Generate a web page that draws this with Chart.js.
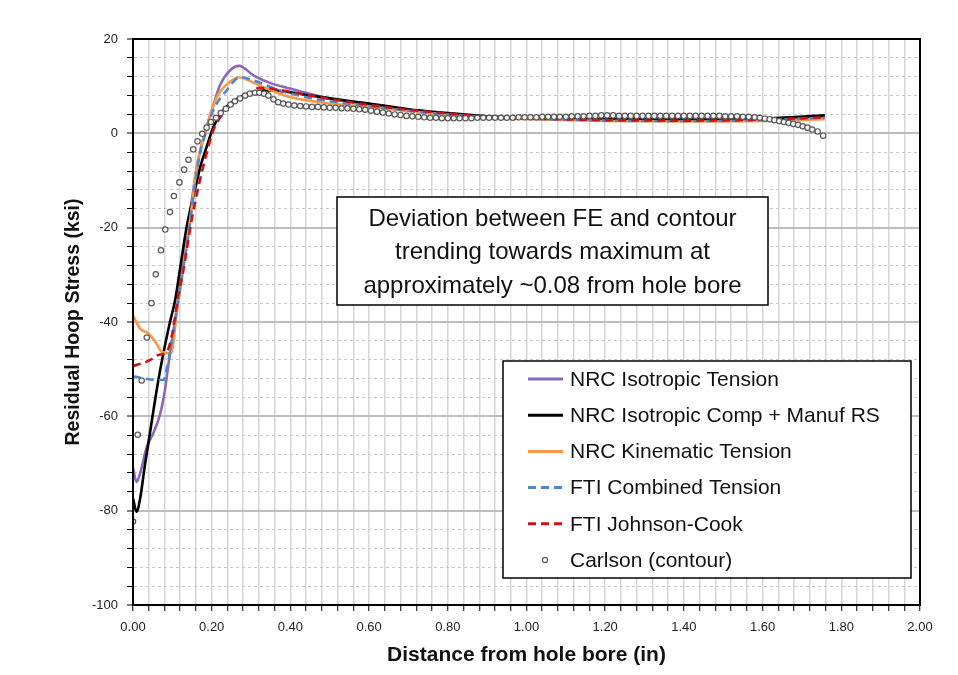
<!DOCTYPE html>
<html>
<head>
<meta charset="utf-8">
<title>Residual Hoop Stress</title>
<script src="https://cdn.jsdelivr.net/npm/chart.js@4.4.1/dist/chart.umd.min.js"></script>
<style>
  html, body { margin: 0; padding: 0; background: #fff; }
  #wrap { width: 958px; height: 675px; }
</style>
</head>
<body>
<div id="wrap"><canvas id="hoop" width="958" height="675"></canvas></div>
<script>
(function () {
    "use strict";

    // NRC Isotropic Tension
    var isoTensionX = [0.000, 0.009, 0.020, 0.035, 0.052, 0.069, 0.081, 0.090, 0.098, 0.111, 0.125, 0.140, 0.155, 0.170, 0.187, 0.204, 0.221, 0.246, 0.270, 0.306, 0.348, 0.399, 0.458, 0.526, 0.611, 0.700, 0.800, 0.900, 1.000, 1.200, 1.400, 1.600, 1.758];
    var isoTensionY = [-70.9, -73.9, -71.5, -66.5, -63.5, -59.5, -54.5, -49.0, -44.6, -37.5, -29.0, -20.0, -11.0, -4.0, 1.3, 5.9, 10.2, 13.3, 14.3, 12.3, 10.7, 9.5, 8.2, 7.0, 6.1, 5.0, 4.1, 3.5, 3.2, 2.9, 2.8, 3.0, 3.6];

    // NRC Isotropic Comp + Manuf RS
    var isoCompX = [0.000, 0.009, 0.018, 0.030, 0.045, 0.062, 0.077, 0.094, 0.107, 0.120, 0.136, 0.160, 0.172, 0.187, 0.204, 0.229, 0.264, 0.297, 0.340, 0.390, 0.460, 0.510, 0.600, 0.700, 0.800, 0.900, 1.000, 1.200, 1.400, 1.600, 1.758];
    var isoCompY = [-77.4, -80.2, -77.5, -70.5, -62.5, -53.5, -46.7, -40.0, -35.4, -28.5, -20.0, -11.0, -6.8, -2.9, 1.3, 4.9, 7.3, 8.4, 9.1, 8.8, 7.9, 7.3, 6.3, 5.1, 4.3, 3.6, 3.3, 3.0, 2.9, 3.1, 3.8];

    // NRC Kinematic Tension
    var kinX = [0.000, 0.018, 0.039, 0.060, 0.073, 0.097, 0.111, 0.128, 0.145, 0.162, 0.176, 0.191, 0.204, 0.221, 0.246, 0.268, 0.300, 0.331, 0.399, 0.475, 0.526, 0.611, 0.700, 0.800, 0.900, 1.000, 1.200, 1.400, 1.600, 1.758];
    var kinY = [-38.6, -41.4, -42.4, -44.6, -46.3, -46.6, -38.2, -28.3, -18.4, -7.0, -2.0, 2.4, 5.9, 8.8, 10.9, 11.9, 11.0, 9.8, 7.7, 6.6, 6.1, 5.5, 4.7, 3.9, 3.3, 3.0, 2.6, 2.5, 2.6, 3.0];

    // FTI Combined Tension
    var combX = [0.000, 0.030, 0.064, 0.077, 0.090, 0.102, 0.111, 0.125, 0.141, 0.158, 0.170, 0.187, 0.204, 0.238, 0.272, 0.300, 0.373, 0.450, 0.500, 0.600, 0.700, 0.800, 0.900, 1.000, 1.200, 1.400, 1.600, 1.758];
    var combY = [-51.5, -52.0, -52.3, -52.3, -48.1, -42.4, -37.5, -30.0, -21.5, -10.5, -4.3, 0.6, 4.9, 9.1, 11.9, 11.4, 9.1, 7.5, 6.8, 5.8, 4.8, 4.0, 3.4, 3.1, 2.7, 2.6, 2.8, 3.3];

    // FTI Johnson-Cook
    var jcX = [0.000, 0.022, 0.043, 0.064, 0.086, 0.098, 0.107, 0.113, 0.128, 0.149, 0.170, 0.187, 0.204, 0.229, 0.264, 0.306, 0.320, 0.350, 0.399, 0.450, 0.500, 0.600, 0.700, 0.800, 0.900, 1.000, 1.200, 1.400, 1.600, 1.758];
    var jcY = [-49.3, -48.8, -48.1, -47.0, -46.3, -43.2, -38.9, -35.4, -29.0, -18.4, -10.0, -4.3, 0.6, 4.2, 7.0, 9.1, 9.6, 9.5, 8.8, 8.0, 7.3, 6.0, 5.0, 4.2, 3.5, 3.2, 2.8, 2.7, 2.9, 3.4];

    // Carlson (contour)
    var carlsonX = [0.000, 0.012, 0.022, 0.035, 0.047, 0.058, 0.071, 0.082, 0.094, 0.104, 0.118, 0.130, 0.141, 0.153, 0.164, 0.176, 0.187, 0.198, 0.211, 0.223, 0.236, 0.248, 0.259, 0.272, 0.285, 0.297, 0.310, 0.321, 0.333, 0.344, 0.357, 0.369, 0.382, 0.395,
        0.410, 0.425, 0.440, 0.455, 0.470, 0.485, 0.500, 0.515, 0.530, 0.545, 0.560, 0.575, 0.590, 0.605, 0.620, 0.635, 0.650, 0.665, 0.680, 0.695, 0.710, 0.725, 0.740, 0.755, 0.770, 0.785,
        0.800, 0.815, 0.830, 0.845, 0.860, 0.875, 0.890, 0.905, 0.920, 0.935, 0.950, 0.965, 0.980, 0.995, 1.010, 1.025, 1.040, 1.055, 1.070, 1.085, 1.100, 1.115, 1.130, 1.145, 1.160, 1.175,
        1.190, 1.205, 1.220, 1.235, 1.250, 1.265, 1.280, 1.295, 1.310, 1.325, 1.340, 1.355, 1.370, 1.385, 1.400, 1.415, 1.430, 1.445, 1.460, 1.475, 1.490, 1.505, 1.520, 1.535, 1.550, 1.565,
        1.580, 1.593, 1.606, 1.618, 1.630, 1.642, 1.654, 1.666, 1.678, 1.690, 1.702, 1.714, 1.726, 1.740, 1.754];
    var carlsonY = [-82.3, -63.9, -52.4, -43.3, -36.0, -29.9, -24.8, -20.4, -16.7, -13.3, -10.4, -7.7, -5.6, -3.4, -1.7, -0.1, 1.2, 2.4, 3.3, 4.3, 5.2, 6.1, 6.8, 7.4, 8.0, 8.4, 8.6, 8.6, 8.4, 8.0, 7.2, 6.6, 6.3, 6.1,
        5.9, 5.8, 5.7, 5.6, 5.6, 5.5, 5.4, 5.4, 5.3, 5.3, 5.2, 5.1, 5.0, 4.8, 4.6, 4.4, 4.2, 4.0, 3.9, 3.7, 3.6, 3.5, 3.4, 3.3, 3.3, 3.2,
        3.2, 3.2, 3.2, 3.2, 3.2, 3.3, 3.3, 3.3, 3.3, 3.3, 3.3, 3.3, 3.4, 3.4, 3.4, 3.4, 3.5, 3.5, 3.5, 3.5, 3.5, 3.6, 3.6, 3.6, 3.7, 3.7,
        3.8, 3.8, 3.8, 3.7, 3.7, 3.7, 3.7, 3.7, 3.7, 3.7, 3.7, 3.7, 3.7, 3.7, 3.7, 3.7, 3.7, 3.7, 3.7, 3.7, 3.7, 3.6, 3.6, 3.6, 3.5, 3.5,
        3.4, 3.3, 3.1, 3.0, 2.8, 2.6, 2.4, 2.2, 2.0, 1.8, 1.5, 1.2, 0.8, 0.4, -0.5];

    var seriesNames = ["NRC Isotropic Tension", "NRC Isotropic Comp + Manuf RS", "NRC Kinematic Tension", "FTI Combined Tension", "FTI Johnson-Cook", "Carlson (contour)"];

    var noteLines = ["Deviation between FE and contour", "trending towards maximum at", "approximately ~0.08 from hole bore"];

    function pts(xs, ys) {
        return xs.map(function (x, i) { return {x: x, y: ys[i]}; });
    }

    function near(v, step) {
        return Math.abs(v / step - Math.round(v / step)) < 1e-6;
    }

    var sansFont = "'Liberation Sans', Arial, sans-serif";

    Chart.defaults.font.family = sansFont;
    Chart.defaults.color = "#000";

    function lineSet(label, xs, ys, color, dash, order) {
        return {
            label: label,
            data: pts(xs, ys),
            showLine: true,
            borderColor: color,
            backgroundColor: color,
            borderWidth: 2.6,
            borderDash: dash,
            pointRadius: 0,
            cubicInterpolationMode: "monotone",
            order: order
        };
    }

    // Plot frame, text box and legend
    var boxes = {
        id: "boxes",
        afterDatasetsDraw: function (chart) {
            var ctx = chart.ctx, a = chart.chartArea;
            ctx.save();

            ctx.strokeStyle = "#000";
            ctx.lineWidth = 2;
            ctx.strokeRect(a.left, a.top, a.right - a.left, a.bottom - a.top);

            // note box
            var nx = a.left + 204, ny = a.top + 158, nw = 431, nh = 108;
            ctx.fillStyle = "#fff";
            ctx.fillRect(nx, ny, nw, nh);
            ctx.lineWidth = 1.5;
            ctx.strokeRect(nx, ny, nw, nh);
            ctx.fillStyle = "#111";
            ctx.font = "24px " + sansFont;
            ctx.textAlign = "center";
            ctx.textBaseline = "middle";
            noteLines.forEach(function (t, i) {
                ctx.fillText(t, nx + nw / 2, ny + 22 + i * 33.5);
            });

            // legend
            var lx = a.right - 417, ly = a.top + 322, lw = 408, lh = 217;
            ctx.fillStyle = "#fff";
            ctx.fillRect(lx, ly, lw, lh);
            ctx.strokeRect(lx, ly, lw, lh);
            ctx.textAlign = "left";
            ctx.font = "21px " + sansFont;
            chart.data.datasets.forEach(function (ds, i) {
                var y = ly + 18 + i * 36.2;
                if (ds.showLine) {
                    ctx.strokeStyle = ds.borderColor;
                    ctx.lineWidth = 3;
                    ctx.setLineDash(ds.borderDash || []);
                    ctx.beginPath();
                    ctx.moveTo(lx + 25, y);
                    ctx.lineTo(lx + 60, y);
                    ctx.stroke();
                    ctx.setLineDash([]);
                } else {
                    ctx.strokeStyle = ds.pointBorderColor;
                    ctx.fillStyle = ds.pointBackgroundColor;
                    ctx.lineWidth = 1.2;
                    ctx.beginPath();
                    ctx.arc(lx + 42, y, 2.6, 0, Math.PI * 2);
                    ctx.fill();
                    ctx.stroke();
                }
                ctx.fillStyle = "#111";
                ctx.fillText(ds.label, lx + 67, y + 1);
            });
            ctx.restore();
        }
    };

    var ctx1 = document.getElementById("hoop").getContext("2d");
    var hoopChart = new Chart(ctx1, {
        type: "scatter",
        data: {
            datasets: [
                lineSet(seriesNames[0], isoTensionX, isoTensionY, "#8768bb", [], 5),
                lineSet(seriesNames[1], isoCompX, isoCompY, "#000000", [], 4),
                lineSet(seriesNames[2], kinX, kinY, "#f79a48", [], 3),
                lineSet(seriesNames[3], combX, combY, "#4f86cc", [8, 5], 2),
                lineSet(seriesNames[4], jcX, jcY, "#cc1418", [8, 5], 1),
                {
                    label: seriesNames[5],
                    data: pts(carlsonX, carlsonY),
                    showLine: false,
                    pointRadius: 2.7,
                    pointBorderWidth: 1.2,
                    pointBorderColor: "#5a5a5a",
                    pointBackgroundColor: "#f6f6f6",
                    order: 0
                }
            ]
        },
        options: {
            responsive: false,
            animation: false,
            devicePixelRatio: 1,
            layout: {padding: {left: 58, right: 38, top: 39, bottom: 3}},
            plugins: {
                legend: {display: false},
                tooltip: {enabled: false}
            },
            scales: {
                x: {
                    type: "linear",
                    min: 0,
                    max: 2,
                    afterFit: function (s) { s.height = 67; },
                    ticks: {
                        stepSize: 0.04,
                        autoSkip: false,
                        maxRotation: 0,
                        padding: 9,
                        font: {size: 13},
                        color: "#222",
                        callback: function (v) { return near(v, 0.2) ? v.toFixed(2) : ""; }
                    },
                    grid: {
                        color: "#d6d6d6",
                        lineWidth: 1.5,
                        tickColor: "#000",
                        tickLength: 6,
                        tickWidth: 1
                    },
                    border: {display: true, color: "#000", width: 2},
                    title: {
                        display: true,
                        text: "Distance from hole bore (in)",
                        font: {size: 21, weight: "bold"},
                        color: "#111",
                        padding: {top: 2, bottom: 4}
                    }
                },
                y: {
                    type: "linear",
                    min: -100,
                    max: 20,
                    afterFit: function (s) { s.width = 75; },
                    ticks: {
                        stepSize: 4,
                        autoSkip: false,
                        padding: 9,
                        font: {size: 13},
                        color: "#222",
                        callback: function (v) { return near(v, 20) ? String(Math.round(v)) : ""; }
                    },
                    grid: {
                        color: function (c) { return c.tick && near(c.tick.value, 20) ? "#bdbdbd" : "#c6c6c6"; },
                        lineWidth: function (c) { return c.tick && near(c.tick.value, 20) ? 2 : 1; },
                        tickColor: "#000",
                        tickLength: 6,
                        tickWidth: 1
                    },
                    border: {
                        display: true,
                        color: "#000",
                        width: 2,
                        dash: function (c) { return c.tick && !near(c.tick.value, 20) ? [3, 3] : []; }
                    },
                    title: {
                        display: true,
                        text: "Residual Hoop Stress (ksi)",
                        font: {size: 19.5, weight: "bold"},
                        color: "#111",
                        padding: {top: 4, bottom: 4}
                    }
                }
            }
        },
        plugins: [boxes]
    });
})();
</script>
</body>
</html>
